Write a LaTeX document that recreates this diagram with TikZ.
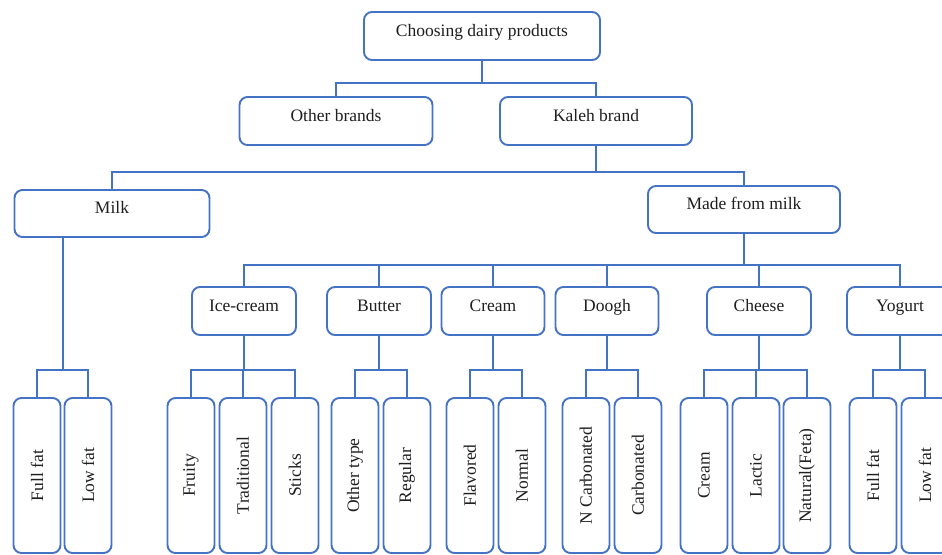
\documentclass[tikz,border=0pt]{standalone}
\usepackage{fontspec}
\setmainfont{Liberation Serif}
\usepackage{graphicx}
\usetikzlibrary{calc}
\definecolor{boxblue}{HTML}{4472C4}
\definecolor{txtcol}{HTML}{1F1F1F}
\begin{document}
\begin{tikzpicture}[x=1pt,y=-1pt,
  base/.style={draw=boxblue, line width=1.9pt, rounded corners=8pt, fill=white,
    text=txtcol, font=\fontsize{17.5}{20}\selectfont, inner sep=0pt, align=center},
  box/.style={base, text height=0.75em, text depth=0.75em},
  leaf/.style={base, minimum width=47, minimum height=155},
  conn/.style={draw=boxblue, line width=1.8pt}]
\useasboundingbox (0,0) rectangle (942,554);
\clip (0,0) rectangle (942,554);
% bus levels
\coordinate (y1) at (0,83);
\coordinate (y2) at (0,172);
\coordinate (y3) at (0,265);
\coordinate (y4) at (0,370);
% top levels
\node[box, minimum width=236, minimum height=48] (root) at (482,36) {Choosing dairy products};
\node[box, minimum width=193, minimum height=48] (other) at (336,121) {Other brands};
\node[box, minimum width=192, minimum height=48] (kaleh) at (596,121) {Kaleh brand};
\node[box, minimum width=195, minimum height=47] (milk) at (112,213.5) {Milk};
\node[box, minimum width=192, minimum height=47] (made) at (744,209.5) {Made from milk};
% middle level
\node[box, minimum width=104, minimum height=48] (ice) at (244,311) {Ice-cream};
\node[box, minimum width=104, minimum height=48] (butter) at (379,311) {Butter};
\node[box, minimum width=103, minimum height=48] (cream) at (493,311) {Cream};
\node[box, minimum width=103, minimum height=48] (doogh) at (607,311) {Doogh};
\node[box, minimum width=104, minimum height=48] (cheese) at (759,311) {Cheese};
\node[box, minimum width=106, minimum height=48] (yog) at (900,311) {Yogurt};
% leaves
\node[leaf] (mfull) at (37,475.5) {\rotatebox{90}{Full fat}};
\node[leaf] (mlow) at (88,475.5) {\rotatebox{90}{Low fat}};
\node[leaf] (ifru) at (191,475.5) {\rotatebox{90}{Fruity}};
\node[leaf] (itra) at (243,475.5) {\rotatebox{90}{Traditional}};
\node[leaf] (isti) at (295,475.5) {\rotatebox{90}{Sticks}};
\node[leaf] (both) at (355,475.5) {\rotatebox{90}{Other type}};
\node[leaf] (breg) at (407,475.5) {\rotatebox{90}{Regular}};
\node[leaf] (cfla) at (470,475.5) {\rotatebox{90}{Flavored}};
\node[leaf] (cnor) at (522,475.5) {\rotatebox{90}{Normal}};
\node[leaf] (dnc) at (586,475.5) {\rotatebox{90}{N Carbonated}};
\node[leaf] (dc) at (638,475.5) {\rotatebox{90}{Carbonated}};
\node[leaf] (hcre) at (704,475.5) {\rotatebox{90}{Cream}};
\node[leaf] (hlac) at (756,475.5) {\rotatebox{90}{Lactic}};
\node[leaf] (hnat) at (807,475.5) {\rotatebox{90}{Natural(Feta)}};
\node[leaf] (yfull) at (873,475.5) {\rotatebox{90}{Full fat}};
\node[leaf] (ylow) at (925,475.5) {\rotatebox{90}{Low fat}};
% connectors: top
\draw[conn] (root.south) -- (root.south |- y1);
\draw[conn] (other.north) -- (other.north |- y1) -- (kaleh.north |- y1) -- (kaleh.north);
\draw[conn] (kaleh.south) -- (kaleh.south |- y2);
\draw[conn] (milk.north) -- (milk.north |- y2) -- (made.north |- y2) -- (made.north);
% made from milk to middle level
\draw[conn] (made.south) -- (made.south |- y3);
\draw[conn] (ice.north) -- (ice.north |- y3) -- (yog.north |- y3) -- (yog.north);
\foreach \n in {butter,cream,doogh,cheese}
  \draw[conn] (\n.north) -- (\n.north |- y3);
% milk to leaves
\coordinate (mk) at (63,0);
\draw[conn] (milk.south -| mk) -- (mk |- y4);
% middle to leaves
\foreach \a/\b in {mfull/mlow, ifru/isti, both/breg, cfla/cnor,
    dnc/dc, hcre/hnat, yfull/ylow}{
  \draw[conn] (\a.north) -- (\a.north |- y4) -- (\b.north |- y4) -- (\b.north);
}
\foreach \p in {ice,butter,cream,doogh,cheese,yog}
  \draw[conn] (\p.south) -- (\p.south |- y4);
\foreach \n in {itra,hlac}
  \draw[conn] (\n.north) -- (\n.north |- y4);
\end{tikzpicture}
\end{document}
